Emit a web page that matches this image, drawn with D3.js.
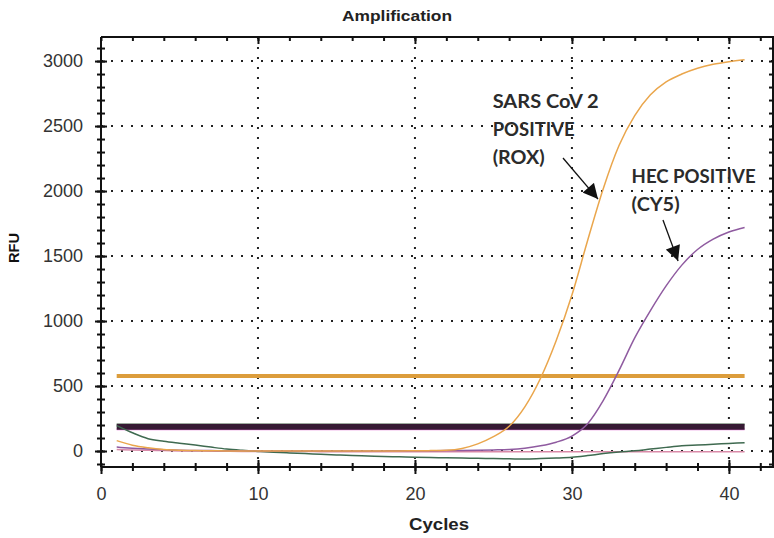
<!DOCTYPE html>
<html>
<head>
<meta charset="utf-8">
<script src="https://cdnjs.cloudflare.com/ajax/libs/d3/7.8.5/d3.min.js"></script>
<style>
  body { margin: 0; background: #fff; }
  svg { display: block; font-family: "Liberation Sans", Arial, sans-serif; }
  .tick text { fill: #333; font-size: 18px; font-family: "Liberation Sans", Arial, sans-serif; }
  .axis path, .axis line { stroke: #111; stroke-width: 2; }
</style>
</head>
<body>
<svg id="chart" width="774" height="538"></svg>
<script>
// cycles and RFU readings
const cycles = [1,2,3,4,5,6,7,8,9,10,11,12,13,14,15,16,17,18,19,20,21,22,23,24,25,26,27,28,29,30,31,32,33,34,35,36,37,38,39,40,41];
const rox = [80,45,25,12,6,3,2,1,1,0,0,0,0,0,0,0,0,1,1,2,3,6,20,55,110,190,340,560,850,1200,1620,2020,2350,2580,2740,2840,2900,2945,2975,2995,3010];
const cy5 = [30,22,15,10,6,4,3,2,2,1,1,1,1,1,1,1,1,1,2,2,2,3,4,5,8,12,22,40,68,115,210,390,620,870,1080,1270,1430,1550,1630,1685,1720];
const hex = [195,140,95,75,60,46,30,15,5,-3,-10,-15,-20,-25,-30,-35,-38,-42,-45,-48,-50,-52,-54,-56,-58,-60,-61,-58,-54,-48,-35,-20,-8,2,15,28,40,46,52,58,64];
const fam = [12,8,5,3,1,0,-1,-2,-3,-3,-4,-4,-4,-5,-5,-5,-5,-5,-5,-5,-5,-5,-5,-5,-5,-5,-5,-5,-5,-5,-5,-6,-6,-6,-6,-6,-6,-6,-6,-6,-6];

// threshold lines
const thresholdNames = ['HEX', 'FAM', 'CY5', 'ROX'];
const thresholdValues = [204, 167, 186, 577];

// axis ticks
const xTicks = [0, 10, 20, 30, 40];
const yTicks = [0, 500, 1000, 1500, 2000, 2500, 3000];

// annotation text lines and arrows, in cycles / RFU
const notes = [
  { lines: ['SARS CoV 2', 'POSITIVE', '(ROX)'], widths: [106, 82, 52], x: 24.95, y: 2641, arrow: [[29.43, 2254], [31.66, 1938]] },
  { lines: ['HEC POSITIVE', '(CY5)'], widths: [124, 48], x: 33.8, y: 2060, arrow: [[35.8, 1777], [36.76, 1462]] }
];

const svg = d3.select('#chart');
const width = 774, height = 538;

const x = d3.scaleLinear().domain([0, 43]).range([101, 776]);
const y = d3.scaleLinear().domain([-123, 3185]).range([467, 37]);

svg.append('rect').attr('width', width).attr('height', height).attr('fill', '#fff');

// dotted grid
const grid = svg.append('g');
grid.selectAll('.gx').data(xTicks.slice(1)).enter().append('line')
  .attr('x1', d => x(d)).attr('x2', d => x(d))
  .attr('y1', y.range()[1]).attr('y2', y.range()[0])
  .attr('stroke', '#222').attr('stroke-width', 2).attr('stroke-dasharray', '2,8');
grid.selectAll('.gy').data(yTicks).enter().append('line')
  .attr('x1', x(0)).attr('x2', width)
  .attr('y1', d => y(d)).attr('y2', d => y(d))
  .attr('stroke', '#222').attr('stroke-width', 2).attr('stroke-dasharray', '2,8');

// minor tick values
const xMinor = d3.range(0, 43, 2);
const yMinor = d3.range(-100, 3200, 100);

// bottom axis
svg.append('g').attr('class', 'axis')
  .attr('transform', 'translate(0,' + y(-123) + ')')
  .call(d3.axisBottom(x).tickValues(xMinor).tickSize(4).tickFormat('').tickSizeOuter(0))
  .call(g => g.select('.domain').attr('d', 'M' + x(0) + ',0H' + width));
svg.append('g').attr('class', 'axis')
  .attr('transform', 'translate(0,' + y(-123) + ')')
  .call(d3.axisTop(x).tickValues(xMinor).tickSize(4).tickFormat('').tickSizeOuter(0))
  .call(g => g.select('.domain').remove());
svg.append('g').attr('class', 'axis')
  .attr('transform', 'translate(0,' + y(-123) + ')')
  .call(d3.axisBottom(x).tickValues(xTicks).tickSize(7).tickPadding(13).tickFormat(d3.format('d')).tickSizeOuter(0))
  .call(g => g.select('.domain').remove());
svg.append('g').attr('class', 'axis')
  .attr('transform', 'translate(0,' + y(-123) + ')')
  .call(d3.axisTop(x).tickValues(xTicks.slice(1)).tickSize(7).tickFormat('').tickSizeOuter(0))
  .call(g => g.select('.domain').remove());

// top frame
svg.append('g').attr('class', 'axis')
  .attr('transform', 'translate(0,' + y(3185) + ')')
  .call(d3.axisBottom(x).tickValues(xMinor).tickSize(4).tickFormat('').tickSizeOuter(0))
  .call(g => g.select('.domain').attr('d', 'M' + x(0) + ',0H' + width));
svg.append('g').attr('class', 'axis')
  .attr('transform', 'translate(0,' + y(3185) + ')')
  .call(d3.axisBottom(x).tickValues(xTicks.slice(1)).tickSize(7).tickFormat('').tickSizeOuter(0))
  .call(g => g.select('.domain').remove());

// left axis
svg.append('g').attr('class', 'axis')
  .attr('transform', 'translate(' + x(0) + ',0)')
  .call(d3.axisLeft(y).tickValues(yMinor).tickSize(4).tickFormat('').tickSizeOuter(0))
  .call(g => g.select('.domain').attr('d', 'M0,' + y(-123) + 'V' + y(3185)));
svg.append('g').attr('class', 'axis')
  .attr('transform', 'translate(' + x(0) + ',0)')
  .call(d3.axisRight(y).tickValues(yMinor).tickSize(4).tickFormat('').tickSizeOuter(0))
  .call(g => g.select('.domain').remove());
svg.append('g').attr('class', 'axis')
  .attr('transform', 'translate(' + x(0) + ',0)')
  .call(d3.axisLeft(y).tickValues(yTicks).tickSize(6).tickPadding(12).tickFormat(d3.format('d')).tickSizeOuter(0))
  .call(g => g.select('.domain').remove());
svg.append('g').attr('class', 'axis')
  .attr('transform', 'translate(' + x(0) + ',0)')
  .call(d3.axisRight(y).tickValues(yTicks).tickSize(6).tickFormat('').tickSizeOuter(0))
  .call(g => g.select('.domain').remove());

// right frame (cut by the window edge)
svg.append('g').attr('class', 'axis')
  .attr('transform', 'translate(' + (width - 1) + ',0)')
  .call(d3.axisLeft(y).tickValues(yMinor).tickSize(4).tickFormat('').tickSizeOuter(0))
  .call(g => g.select('.domain').attr('d', 'M0,' + y(-123) + 'V' + y(3185)));

// threshold lines
const thrColors = { HEX: '#86b98c', FAM: '#e27ad6', CY5: '#361a33', ROX: '#dc9d3c' };
const thrWidths = { HEX: 2, FAM: 2, CY5: 6, ROX: 4 };
svg.append('g').selectAll('line').data(thresholdNames).enter().append('line')
  .attr('x1', x(cycles[0])).attr('x2', x(cycles[cycles.length - 1]))
  .attr('y1', (d, i) => y(thresholdValues[i])).attr('y2', (d, i) => y(thresholdValues[i]))
  .attr('stroke', d => thrColors[d]).attr('stroke-width', d => thrWidths[d]);

// amplification curves
const line = d3.line()
  .x((d, i) => x(cycles[i]))
  .y(d => y(d))
  .curve(d3.curveMonotoneX);

const series = [
  { values: fam, color: '#d98aa8' },
  { values: hex, color: '#3f6a50' },
  { values: cy5, color: '#8f5ba0' },
  { values: rox, color: '#eaa64c' }
];
svg.append('g').selectAll('path').data(series).enter().append('path')
  .attr('d', d => line(d.values))
  .attr('fill', 'none')
  .attr('stroke', d => d.color)
  .attr('stroke-width', 1.5);

// annotations
svg.append('defs').append('marker')
  .attr('id', 'head').attr('viewBox', '0 0 10 10')
  .attr('refX', 10).attr('refY', 5)
  .attr('markerUnits', 'userSpaceOnUse')
  .attr('markerWidth', 16).attr('markerHeight', 15)
  .attr('orient', 'auto')
  .append('path').attr('d', 'M0,0L10,5L0,10Z').attr('fill', '#111');

notes.forEach(n => {
  const t = svg.append('text')
    .attr('x', x(n.x)).attr('y', y(n.y))
    .attr('fill', '#2b2b2b')
    .style('font-family', 'Lato, "Open Sans", sans-serif')
    .style('font-weight', 700).style('font-size', '19px');
  n.lines.forEach((l, i) => {
    t.append('tspan').attr('x', x(n.x)).attr('dy', i ? 28 : 0)
      .attr('textLength', n.widths[i]).attr('lengthAdjust', 'spacingAndGlyphs')
      .text(l);
  });
  svg.append('line')
    .attr('x1', x(n.arrow[0][0])).attr('y1', y(n.arrow[0][1]))
    .attr('x2', x(n.arrow[1][0])).attr('y2', y(n.arrow[1][1]))
    .attr('stroke', '#111').attr('stroke-width', 1.3)
    .attr('marker-end', 'url(#head)');
});

// titles
svg.append('text')
  .attr('x', 397).attr('y', 21)
  .attr('text-anchor', 'middle')
  .style('font-weight', 'bold').style('font-size', '15px').attr('fill', '#222')
  .attr('textLength', 110).attr('lengthAdjust', 'spacingAndGlyphs')
  .text('Amplification');

svg.append('text')
  .attr('x', 439).attr('y', 530)
  .attr('text-anchor', 'middle')
  .style('font-weight', 'bold').style('font-size', '17px').attr('fill', '#222')
  .attr('textLength', 60).attr('lengthAdjust', 'spacingAndGlyphs')
  .text('Cycles');

svg.append('text')
  .attr('transform', 'translate(19,248) rotate(-90)')
  .attr('text-anchor', 'middle')
  .style('font-weight', 'bold').style('font-size', '15px').attr('fill', '#111')
  .attr('textLength', 30).attr('lengthAdjust', 'spacingAndGlyphs')
  .text('RFU');
</script>
</body>
</html>
